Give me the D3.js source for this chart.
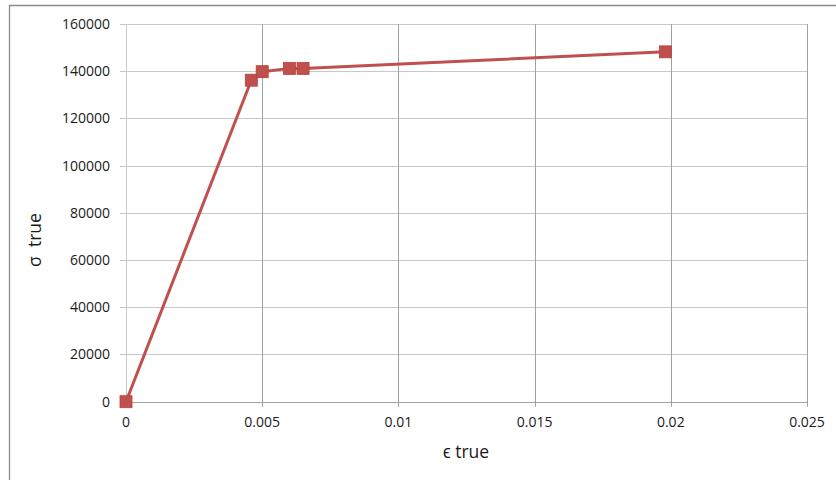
<!DOCTYPE html>
<html>
<head>
<meta charset="utf-8">
<script src="https://cdn.jsdelivr.net/npm/d3@7"></script>
<style>
  html, body { margin: 0; padding: 0; background: #fff; }
  svg { display: block; }
  text { font-family: "Open Sans", "Liberation Sans", sans-serif; fill: #1a1a1a; white-space: pre; }
</style>
</head>
<body>
<svg id="chart" width="836" height="480"></svg>
<script>
const strainTrue = [0, 0.0046, 0.005, 0.006, 0.0065, 0.0198];
const stressTrue = [0, 136200, 139800, 141200, 141200, 148200];
const xTicks = [0, 0.005, 0.01, 0.015, 0.02, 0.025];
const yTicks = [0, 20000, 40000, 60000, 80000, 100000, 120000, 140000, 160000];
const xTitle = "ϵ true";
const yTitle = "σ  true";

const svg = d3.select("#chart");
const m = { left: 126, right: 807, top: 24, bottom: 401.7 };

const x = d3.scaleLinear().domain([0, 0.025]).range([m.left, m.right]);
const y = d3.scaleLinear().domain([0, 160000]).range([m.bottom, m.top]);

// outer border
svg.append("path")
  .attr("d", `M9.5,480 L9.5,5.5 L836,5.5`)
  .attr("fill", "none").attr("stroke", "#8c8c8c").attr("stroke-width", 1.3);

// horizontal gridlines
svg.append("g").selectAll("line").data(yTicks).join("line")
  .attr("x1", m.left - 6).attr("x2", m.right)
  .attr("y1", d => Math.round(y(d)) + 0.5).attr("y2", d => Math.round(y(d)) + 0.5)
  .attr("stroke", d => d === 0 ? "#a6a6a6" : "#c8c8c8").attr("stroke-width", 1);

// vertical gridlines
svg.append("g").selectAll("line").data(xTicks).join("line")
  .attr("x1", d => Math.round(x(d)) + 0.5).attr("x2", d => Math.round(x(d)) + 0.5)
  .attr("y1", m.top).attr("y2", m.bottom + 5)
  .attr("stroke", d => d === 0 ? "#c8c8c8" : "#a0a0a0").attr("stroke-width", 1);

// y tick labels
svg.append("g").selectAll("text").data(yTicks).join("text")
  .attr("x", 110).attr("y", d => y(d)).attr("dy", "0.35em")
  .attr("text-anchor", "end").attr("font-size", 14)
  .text(d => d3.format("d")(d));

// x tick labels
svg.append("g").selectAll("text").data(xTicks).join("text")
  .attr("x", d => x(d)).attr("y", 422).attr("dy", "0.35em")
  .attr("text-anchor", "middle").attr("font-size", 14)
  .text(d => String(d));

// line
const pts = strainTrue.map((s, i) => [s, stressTrue[i]]);
svg.append("path").datum(pts)
  .attr("d", d3.line().x(d => x(d[0])).y(d => y(d[1])))
  .attr("fill", "none").attr("stroke", "#c0504d").attr("stroke-width", 3)
  .attr("stroke-linejoin", "round");

// markers
const ms = 12;
svg.append("g").selectAll("rect").data(pts).join("rect")
  .attr("x", d => x(d[0]) - ms / 2).attr("y", d => y(d[1]) - ms / 2)
  .attr("width", ms).attr("height", ms)
  .attr("fill", "#c0504d").attr("stroke", "#b9403d").attr("stroke-width", 0.8);

// axis titles
svg.append("text").attr("x", 466).attr("y", 458)
  .attr("text-anchor", "middle").attr("font-size", 17.5).text(xTitle);
svg.append("text").attr("transform", "translate(41,240) rotate(-90)")
  .attr("text-anchor", "middle").attr("font-size", 17.5).text(yTitle);
</script>
</body>
</html>
